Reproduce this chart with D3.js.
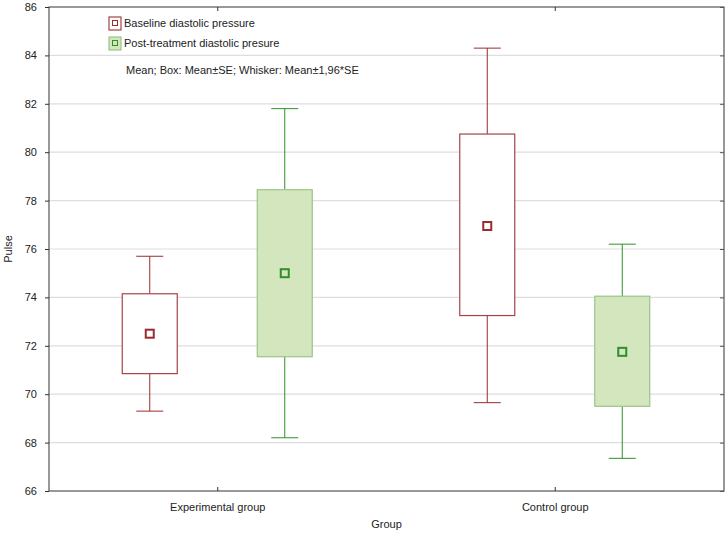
<!DOCTYPE html>
<html><head><meta charset="utf-8">
<script src="https://cdn.jsdelivr.net/npm/d3@7"></script>
<style>body{margin:0;background:#fff;} text{font-family:Arial,"Liberation Sans",sans-serif;}</style>
</head><body>
<svg id="chart" width="728" height="536"></svg>
<script>
const groups = ["Experimental group", "Control group"];
const seriesNames = ["Baseline diastolic pressure", "Post-treatment diastolic presure"];
const yTicks = [66, 68, 70, 72, 74, 76, 78, 80, 82, 84, 86];
// per series, per group
const means =     [[72.5, 76.95], [75.0, 71.75]];
const boxLow =    [[70.85, 73.25], [71.55, 69.5]];
const boxHigh =   [[74.15, 80.75], [78.45, 74.05]];
const whiskLow =  [[69.3, 69.65], [68.2, 67.35]];
const whiskHigh = [[75.7, 84.3], [81.8, 76.2]];

const svg = d3.select("#chart");
const m = {l: 49, r: 4, t: 7, b: 45};
const W = 728, H = 536;
const x = d3.scaleBand().domain(groups).range([m.l, W - m.r]);
const y = d3.scaleLinear().domain([66, 86]).range([H - m.b, m.t]);

const strokeCol = ["#9a2b2e", "#2f8f2a"];
const boxStroke = ["#a44447", "#9cc48a"];
const fillCol = ["#ffffff", "#d3e6bd"];
const offs = [-68, 67];
const boxW = 55, capW = 27, mk = 8;

// grid
svg.append("g").selectAll("line").data(yTicks.slice(1, -1)).join("line")
  .attr("x1", m.l).attr("x2", W - m.r)
  .attr("y1", d => y(d)).attr("y2", d => y(d))
  .attr("stroke", "#dedede").attr("stroke-width", 1.2);

// frame
svg.append("rect").attr("x", m.l).attr("y", m.t)
  .attr("width", W - m.r - m.l).attr("height", H - m.b - m.t)
  .attr("fill", "none").attr("stroke", "#333").attr("stroke-width", 1);

// axes
const yAxis = d3.axisLeft(y).tickValues(yTicks).tickSize(4).tickPadding(8).tickFormat(d3.format("d"));
const gy = svg.append("g").attr("transform", `translate(${m.l},0)`).call(yAxis);
gy.select(".domain").remove();
gy.selectAll("text").attr("font-size", 11).attr("fill", "#222");
gy.selectAll("line").attr("stroke", "#333");
const gyr = svg.append("g").attr("transform", `translate(${W - m.r},0)`).call(d3.axisLeft(y).tickValues(yTicks).tickSize(4).tickFormat(""));
gyr.select(".domain").remove(); gyr.selectAll("line").attr("stroke", "#555");

const xAxis = d3.axisBottom(x).tickSize(-4).tickPadding(12);
const gx = svg.append("g").attr("transform", `translate(0,${H - m.b})`).call(xAxis);
gx.select(".domain").remove();
gx.selectAll("text").attr("font-size", 11).attr("fill", "#222");
gx.selectAll("line").attr("stroke", "#333");
const gxt = svg.append("g").attr("transform", `translate(0,${m.t})`).call(d3.axisBottom(x).tickSize(4).tickFormat(""));
gxt.select(".domain").remove(); gxt.selectAll("line").attr("stroke", "#333");

// axis titles
svg.append("text").attr("x", (m.l + W - m.r) / 2).attr("y", 528).attr("text-anchor", "middle")
  .attr("font-size", 11).attr("fill", "#222").text("Group");
svg.append("text").attr("transform", `translate(12,${(m.t + H - m.b) / 2}) rotate(-90)`)
  .attr("text-anchor", "middle").attr("font-size", 11).attr("fill", "#222").text("Pulse");

// boxes
seriesNames.forEach((s, si) => {
  groups.forEach((g, gi) => {
    const cx = x(g) + x.bandwidth() / 2 + offs[si];
    const gg = svg.append("g");
    gg.append("line").attr("x1", cx).attr("x2", cx).attr("y1", y(whiskHigh[si][gi])).attr("y2", y(boxHigh[si][gi]))
      .attr("stroke", strokeCol[si]);
    gg.append("line").attr("x1", cx).attr("x2", cx).attr("y1", y(boxLow[si][gi])).attr("y2", y(whiskLow[si][gi]))
      .attr("stroke", strokeCol[si]);
    [whiskHigh[si][gi], whiskLow[si][gi]].forEach(v => {
      gg.append("line").attr("x1", cx - capW / 2).attr("x2", cx + capW / 2).attr("y1", y(v)).attr("y2", y(v))
        .attr("stroke", strokeCol[si]);
    });
    gg.append("rect").attr("x", cx - boxW / 2).attr("width", boxW)
      .attr("y", y(boxHigh[si][gi])).attr("height", y(boxLow[si][gi]) - y(boxHigh[si][gi]))
      .attr("fill", fillCol[si]).attr("stroke", boxStroke[si]).attr("stroke-width", 1.2);
    gg.append("rect").attr("x", cx - mk / 2).attr("y", y(means[si][gi]) - mk / 2).attr("width", mk).attr("height", mk)
      .attr("fill", fillCol[si]).attr("stroke", strokeCol[si]).attr("stroke-width", 2);
  });
});

// legend
seriesNames.forEach((s, si) => {
  const ly = 23 + si * 20;
  svg.append("rect").attr("x", 109).attr("y", ly - 6).attr("width", 12).attr("height", 13)
    .attr("fill", fillCol[si]).attr("stroke", boxStroke[si]).attr("stroke-width", 1.2);
  svg.append("rect").attr("x", 112.5).attr("y", ly - 2.5).attr("width", 5).attr("height", 5)
    .attr("fill", "none").attr("stroke", strokeCol[si]).attr("stroke-width", 1);
  svg.append("text").attr("x", 124).attr("y", ly + 4).attr("font-size", 11).attr("fill", "#222").text(s);
});
svg.append("text").attr("x", 126).attr("y", 74).attr("font-size", 11).attr("fill", "#222")
  .text("Mean; Box: Mean±SE; Whisker: Mean±1,96*SE");
</script>
</body></html>
